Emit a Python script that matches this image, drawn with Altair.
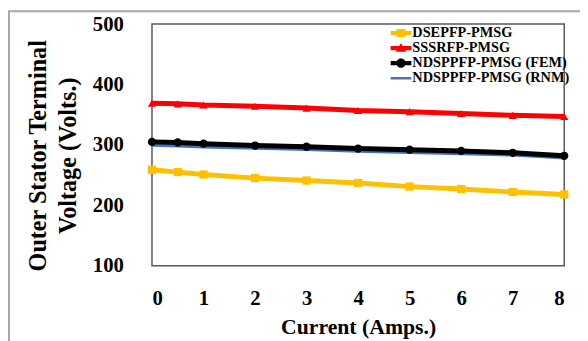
import altair as alt
import pandas as pd

# ---- data ----
current = [0, 0.5, 1, 2, 3, 4, 5, 6, 7, 8]
dsepfp = [259, 255, 251, 245, 241, 237, 231, 227, 222, 218]
sssrfp = [369, 368, 366, 364, 361, 357, 355, 352, 349, 347]
ndsppfp_fem = [305, 304, 302, 299, 297, 294, 292, 290, 287, 282]
ndsppfp_rnm = [301, 300, 298, 296, 294, 291, 289, 287, 285, 280]

names = ["DSEPFP-PMSG", "SSSRFP-PMSG", "NDSPPFP-PMSG (FEM)", "NDSPPFP-PMSG (RNM)"]
colors = ["#FFC000", "#FF0000", "#000000", "#4472C4"]
widths = [5, 5, 4.5, 2.5]
x_ticks = [0, 1, 2, 3, 4, 5, 6, 7, 8]
y_ticks = [100, 200, 300, 400, 500]

series_values = {
    "DSEPFP-PMSG": dsepfp,
    "SSSRFP-PMSG": sssrfp,
    "NDSPPFP-PMSG (RNM)": ndsppfp_rnm,
    "NDSPPFP-PMSG (FEM)": ndsppfp_fem,
}
rows = []
for name, vals in series_values.items():
    for c, v in zip(current, vals):
        rows.append({"current": c, "voltage": v, "series": name})
df = pd.DataFrame(rows)

FONT = "Times New Roman, Liberation Serif, serif"

x_enc = alt.X(
    "current:Q",
    scale=alt.Scale(domain=[0, 8], nice=False),
    axis=alt.Axis(values=x_ticks, title="Current (Amps.)", labelPadding=22, titlePadding=9),
)
y_enc = alt.Y(
    "voltage:Q",
    scale=alt.Scale(domain=[100, 500], nice=False),
    axis=alt.Axis(
        values=y_ticks,
        title=["Outer Stator Terminal", "Voltage (Volts.)"],
        labelPadding=29,
        titlePadding=12,
        titleLineHeight=30,
        titleFontSize=24.5,
        titleY=133,
    ),
)

color_scale = alt.Scale(domain=names, range=colors)

lines = alt.Chart(df).mark_line().encode(
    x=x_enc,
    y=y_enc,
    color=alt.Color("series:N", scale=color_scale, legend=None),
    strokeWidth=alt.StrokeWidth("series:N", scale=alt.Scale(domain=names, range=widths), legend=None),
)

points = (
    alt.Chart(df)
    .transform_filter(alt.datum.series != "NDSPPFP-PMSG (RNM)")
    .mark_point(filled=True, opacity=1)
    .encode(
        x=x_enc,
        y=y_enc,
        color=alt.Color("series:N", scale=color_scale, legend=None),
        shape=alt.Shape(
            "series:N",
            scale=alt.Scale(domain=names[:3], range=["square", "triangle-up", "circle"]),
            legend=None,
        ),
        size=alt.value(70),
    )
)

bar = "M-1.4,-0.28H1.4V0.28H-1.4Z "
legend_paths = [
    bar + "M-0.6,-0.55H0.6V0.55H-0.6Z",
    bar + "M0,-0.7L0.7,0.5H-0.7Z",
    bar + "M-0.62,0A0.62,0.62 0 1,1 0.62,0A0.62,0.62 0 1,1 -0.62,0Z",
    "M-1.4,-0.17H1.4V0.17H-1.4Z",
]

legend_layer = (
    alt.Chart(df)
    .transform_filter("datum.current < 0")
    .mark_point(filled=True, opacity=1)
    .encode(
        x=x_enc,
        y=y_enc,
        color=alt.Color(
            "series:N",
            scale=color_scale,
            legend=alt.Legend(title=None, orient="none", legendX=245, legendY=1.5),
        ),
        shape=alt.Shape(
            "series:N",
            scale=alt.Scale(domain=names, range=legend_paths),
            legend=alt.Legend(title=None, orient="none", legendX=245, legendY=1.5),
        ),
    )
)

border = (
    alt.Chart(pd.DataFrame({"a": [0]}))
    .mark_rect(fill="transparent", stroke="#a6a6a6", strokeWidth=2, clip=False)
    .encode(x=alt.value(-145), x2=alt.value(436), y=alt.value(-13), y2=alt.value(340))
)

chart = (
    alt.layer(border, lines, points, legend_layer)
    .resolve_scale(color="independent", shape="independent", strokeWidth="independent")
    .properties(
        width=418,
        height=245,
        autosize=alt.AutoSizeParams(type="none"),
        padding={"left": 146, "top": 14, "right": 16, "bottom": 74},
        background="white",
    )
    .configure_view(stroke="#595959", strokeWidth=1.5)
    .configure_axis(
        domain=False,
        ticks=False,
        grid=False,
        labelFont=FONT,
        labelFontSize=21,
        labelFontWeight="bold",
        labelColor="black",
        titleFont=FONT,
        titleFontSize=22,
        titleFontWeight="bold",
        titleColor="black",
    )
    .configure_legend(
        labelFont=FONT,
        labelFontSize=14.5,
        labelFontWeight="bold",
        labelColor="black",
        symbolSize=225,
        rowPadding=0.3,
        padding=0,
        labelOffset=4,
        symbolStrokeWidth=0,
        symbolOpacity=1,
    )
)

chart.save("out.html", embed_options={"renderer": "svg", "actions": False})
